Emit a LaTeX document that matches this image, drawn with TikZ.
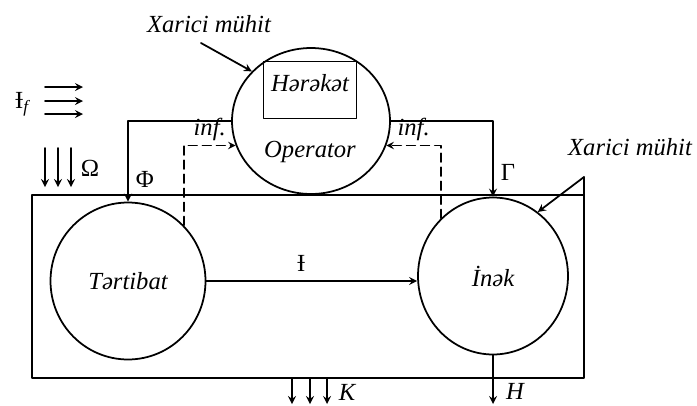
\documentclass[tikz,border=0pt]{standalone}
\usepackage{fontspec}
\setmainfont{Liberation Serif}[ItalicFont={Liberation Serif Italic}]
\usetikzlibrary{arrows.meta,shapes.geometric,positioning}
\tikzset{
  every picture/.style={line join=round, line cap=round},
  lbl/.style={font=\fontsize{14}{16}\selectfont\itshape, inner sep=1pt},
  sym/.style={font=\fontsize{14}{16}\selectfont, inner sep=1pt},
  blob/.style={draw, ellipse, line width=1pt, inner sep=0pt},
  hbox/.style={draw, rectangle, line width=1pt, minimum width=1.86cm, minimum height=1.14cm},
  infline/.style={dash pattern=on 5pt off 3pt, line width=0.9pt},
}

\begin{document}
\begin{tikzpicture}[->,>=stealth,x=0.02cm,y=-0.02cm,line width=1pt]
\useasboundingbox (0,0) rectangle (697,406);
\coordinate (fnw) at (32,195);
\coordinate (fse) at (584,378);
\draw[-] (fnw) rectangle (fse);
\node[lbl,blob,minimum width=3.1cm,minimum height=3.14cm] (tert) at (128,281) {Tərtibat};
\node[lbl,blob,minimum width=3cm,minimum height=3.14cm] (inek) at (493,276) {İnək};
\node[blob,minimum width=3.16cm,minimum height=2.92cm] (op) at (311,121) {};
\node[hbox] (hrk) at (310,90) {};
\node[lbl,below=0.22cm of hrk.north] (hrktxt) {Hərəkət};
\node[lbl] (optxt) at (310,152) {Operator};
% xarici muhit
\node[lbl] (xm1) at (209,24) {Xarici mühit};
\node[lbl] (xm2) at (630,147) {Xarici mühit};
\coordinate (xm1a) at (201,43);
\coordinate (apex) at (584,177);
\draw (xm1a) -- (op.140);
\draw[-] (apex) -- (apex |- fnw);
\draw (apex) -- (inek.55);
% links
\draw (op.west) -| (tert.north) node[sym,pos=0.86,right=3pt] {Φ};
\draw (op.east) -| (inek.north) node[sym,pos=0.84,right=3pt] {Γ};
\draw[infline] (tert.45) |- (op.198) node[lbl,pos=0.75,above=1pt] {inf.};
\draw[infline] (inek.132) |- (op.342) node[lbl,pos=0.75,above=1pt] {inf.};
\draw (tert.east) -- (tert.east -| inek.west) node[sym,pos=0.45,above=4pt] {Ɨ};
\coordinate (hend) at (inek.south |- 0,404);
\draw (inek.south) -- (hend) node[lbl,pos=0.74,right=6pt] {H};
% inputs
\foreach \x in {292,310,327}
  \draw (\x,378) -- (\x,404);
\node[lbl] (k) at (347,392) {K};
\foreach \x in {45,58,71}
  \draw (\x,148) -- (\x,187);
\node[sym] (om) at (90,168) {Ω};
\foreach \y in {87,101,114}
  \draw (45,\y) -- (83,\y);
\node[sym] (iff) at (23,104) {Ɨ\textsubscript{\textit{f}}};
\end{tikzpicture}
\end{document}
